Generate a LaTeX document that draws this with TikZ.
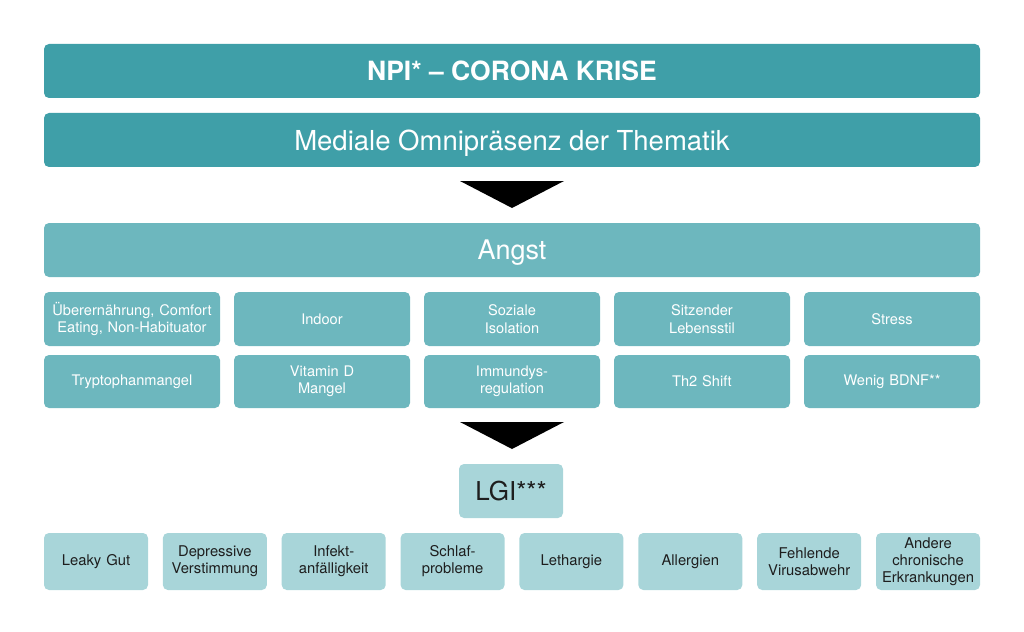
\documentclass[tikz,border=0pt]{standalone}
\usepackage{fontspec}
\setmainfont{TeX Gyre Heros}
\usepackage{xcolor}
\usetikzlibrary{positioning}

\definecolor{tealdark}{HTML}{3F9FA8}
\definecolor{tealmid}{HTML}{6DB7BE}
\definecolor{teallight}{HTML}{A8D5D9}
\definecolor{textdark}{HTML}{1E1E1E}

\tikzset{
    bar/.style={fill=tealdark, rounded corners=5pt, minimum width=936pt, minimum height=54pt,
        inner sep=0pt, outer sep=0pt, text depth=0pt, text=white, font=\fontsize{27.5}{31}\selectfont},
    angstbar/.style={bar, fill=tealmid, font=\fontsize{27}{31}\selectfont},
    cause/.style={fill=tealmid, rounded corners=5pt, minimum width=176pt, minimum height=54pt,
        inner sep=0pt, outer sep=0pt, text width=174pt, align=center, text=white,
        font=\fontsize{14.6}{17.5}\selectfont},
    lgibox/.style={fill=teallight, rounded corners=5pt, minimum width=104pt, minimum height=54pt,
        inner sep=0pt, outer sep=0pt, text=textdark, font=\fontsize{26}{30}\selectfont},
    effect/.style={fill=teallight, rounded corners=5pt, minimum width=104pt, minimum height=57pt,
        inner sep=0pt, outer sep=0pt, text width=104pt, align=center, text=textdark,
        font=\fontsize{14.8}{17}\selectfont},
}

\begin{document}
\begin{tikzpicture}[x=1pt, y=1pt, node distance=14pt]
    \useasboundingbox (0,0) rectangle (1024,-631);

    % Kopf
    \node[bar, font=\bfseries\fontsize{26.5}{30}\selectfont] (npi) at (512,-71) {NPI* – CORONA KRISE};
    \node[bar] (mediale) at (512,-140) {Mediale Omnipräsenz der Thematik};
    \node[angstbar] (angst) at (512,-250) {Angst};

    % Ursachen
    \node[cause] (ernaehrung) at (132,-319) {Überernährung, Comfort\\Eating, Non-Habituator};
    \node[cause] (indoor) [right=of ernaehrung] {Indoor};
    \node[cause] (isolation) [right=of indoor] {Soziale\\Isolation};
    \node[cause] (lebensstil) [right=of isolation] {Sitzender\\Lebensstil};
    \node[cause] (stress) [right=of lebensstil] {Stress};

    \node[cause, minimum height=53pt] (tryptophan) at (132,-381.5) {Tryptophanmangel};
    \node[cause, minimum height=53pt] (vitamind) [right=of tryptophan] {Vitamin D\\Mangel};
    \node[cause, minimum height=53pt] (immun) [right=of vitamind] {Immundys-\\regulation};
    \node[cause, minimum height=53pt] (th2) [right=of immun] {Th2 Shift};
    \node[cause, minimum height=53pt] (bdnf) [right=of th2] {Wenig BDNF**};

    \node[lgibox] (lgi) at (511,-491) {LGI***};

    % Folgen
    \node[effect] (leaky) at (96,-561.5) {Leaky Gut};
    \node[effect] (depressiv) [right=14.86pt of leaky] {Depressive\\Verstimmung};
    \node[effect] (infekt) [right=14.86pt of depressiv] {Infekt-\\anfälligkeit};
    \node[effect] (schlaf) [right=14.86pt of infekt] {Schlaf-\\probleme};
    \node[effect] (lethargie) [right=14.86pt of schlaf] {Lethargie};
    \node[effect] (allergien) [right=14.86pt of lethargie] {Allergien};
    \node[effect] (virus) [right=14.86pt of allergien] {Fehlende\\Virusabwehr};
    \node[effect] (chronisch) [right=14.86pt of virus] {Andere\\chronische\\Erkrankungen};

    % Pfeile
    \fill ([xshift=-52pt,yshift=-14pt]mediale.south) -- ([xshift=52pt,yshift=-14pt]mediale.south)
        -- ([yshift=-41pt]mediale.south) -- cycle;
    \fill ([xshift=-52pt,yshift=-14pt]immun.south) -- ([xshift=52pt,yshift=-14pt]immun.south)
        -- ([yshift=-41pt]immun.south) -- cycle;
\end{tikzpicture}
\end{document}
